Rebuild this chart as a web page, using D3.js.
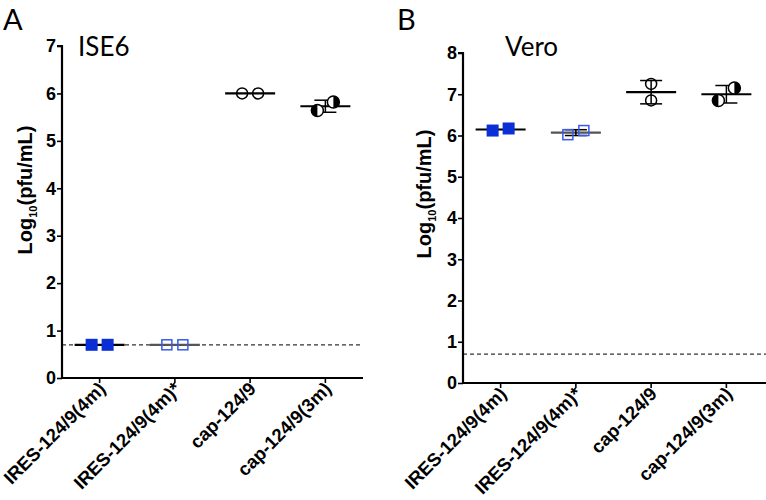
<!DOCTYPE html>
<html><head><meta charset="utf-8">
<script src="https://cdn.jsdelivr.net/npm/d3@7"></script>
<style>body{margin:0;background:#fff}svg{display:block}</style>
</head><body>
<svg id="c" width="766" height="500"></svg>
<script>
const categories = ["IRES-124/9(4m)", "IRES-124/9(4m)*", "cap-124/9", "cap-124/9(3m)"];
const symbols = ["filledSquare", "openSquare", "openCircle", "halfCircle"];
const ise6Values = [[0.7, 0.7], [0.7, 0.7], [6.0, 6.0], [5.64, 5.82]];
const veroValues = [[6.12, 6.17], [6.02, 6.12], [7.25, 6.85], [6.85, 7.15]];
const ise6Ticks = [0, 1, 2, 3, 4, 5, 6, 7];
const veroTicks = [0, 1, 2, 3, 4, 5, 6, 7, 8];
const detectionLimit = 0.7;

const svg = d3.select("#c");
const BLUE = "#0b2fd6", BLUE2 = "#3a5ae8";
const FONT = "Liberation Sans, Arial, sans-serif";

function panel(opt) {
  const g = svg.append("g");
  const x = d3.scaleBand().domain(categories).range([opt.x0, opt.x1]);
  const y = d3.scaleLinear().domain([0, d3.max(opt.ticks)]).range([opt.yb, opt.yt]);
  const cx = c => x(c) + x.bandwidth() / 2;

  // detection limit
  g.append("line").attr("x1", opt.x0).attr("x2", opt.x1 + opt.extra)
    .attr("y1", y(detectionLimit)).attr("y2", y(detectionLimit))
    .attr("stroke", "#333").attr("stroke-width", 1.2).attr("stroke-dasharray", "4,3");

  // axes
  const ya = d3.axisLeft(y).tickValues(opt.ticks).tickSize(5).tickPadding(1).tickFormat(d3.format("d"));
  const yg = g.append("g").attr("transform", `translate(${opt.x0},0)`).call(ya);
  yg.select(".domain").attr("d", `M-5,${opt.yt}H0V${opt.yb}`).attr("stroke-width", 2.2);
  yg.selectAll(".tick line").attr("stroke-width", 1.6);
  yg.selectAll("text").attr("font-family", FONT)
    .attr("font-weight", "bold").attr("font-size", 18).attr("fill", "#000");

  const xa = d3.axisBottom(x).tickSize(5).tickSizeOuter(0).tickFormat(() => "");
  const xg = g.append("g").attr("transform", `translate(0,${opt.yb})`).call(xa);
  xg.select(".domain").attr("d", `M${opt.x0},0H${opt.x1 + opt.extra}`).attr("stroke-width", 2.2);
  xg.selectAll(".tick line").attr("stroke-width", 1.6);
  g.selectAll(".xl").data(categories).enter().append("text")
    .attr("transform", d => `translate(${cx(d) + 7},${opt.yb + 12}) rotate(-45)`)
    .attr("text-anchor", "end")
    .attr("font-family", FONT).attr("font-weight", "bold")
    .attr("font-size", 18.5).text(d => d);

  // y label
  const yl = g.append("text")
    .attr("transform", `translate(${opt.ylx},${opt.yly}) rotate(-90)`)
    .attr("text-anchor", "middle")
    .attr("font-family", FONT).attr("font-weight", "bold").attr("font-size", 20);
  yl.append("tspan").text("Log");
  yl.append("tspan").attr("font-size", 11).attr("dy", 5).text("10");
  yl.append("tspan").attr("dy", -5).text("(pfu/mL)");

  // title & panel letter
  g.append("text").attr("x", opt.tx).attr("y", 56).attr("font-family", "Lato, Open Sans, sans-serif")
    .attr("font-size", 26).text(opt.title);
  g.append("text").attr("x", opt.lx).attr("y", 30).attr("font-family", "Lato, Open Sans, sans-serif")
    .attr("font-size", 29).text(opt.letter);

  // data
  opt.values.forEach((vals, i) => {
    const c = categories[i];
    const m = d3.mean(vals), sd = d3.deviation(vals) || 0;
    const X = cx(c);
    const meanColor = symbols[i] === "openSquare" ? "#555" : "#000";
    g.append("line").attr("x1", X - 25).attr("x2", X + 25).attr("y1", y(m)).attr("y2", y(m))
      .attr("stroke", meanColor).attr("stroke-width", 2.2);
    if (sd > 0.05) {
      [m + sd, m - sd].forEach(v => g.append("line").attr("x1", X - 11).attr("x2", X + 11)
        .attr("y1", y(v)).attr("y2", y(v)).attr("stroke", "#000").attr("stroke-width", 1.5));
      g.append("line").attr("x1", X).attr("x2", X).attr("y1", y(m + sd)).attr("y2", y(m - sd))
        .attr("stroke", "#000").attr("stroke-width", 1.5);
    }
    const close = Math.abs(y(vals[0]) - y(vals[1])) < 16;
    vals.forEach((v, j) => {
      const off = close ? (j === 0 ? -8 : 8) : 0;
      const px = X + off, py = y(v);
      const s = symbols[i];
      if (s === "filledSquare") {
        g.append("rect").attr("x", px - 6).attr("y", py - 6).attr("width", 12).attr("height", 12).attr("fill", BLUE);
      } else if (s === "openSquare") {
        g.append("rect").attr("x", px - 5).attr("y", py - 5).attr("width", 10).attr("height", 10)
          .attr("fill", "none").attr("stroke", BLUE2).attr("stroke-width", 1.5);
      } else if (s === "openCircle") {
        g.append("circle").attr("cx", px).attr("cy", py).attr("r", 5.5).attr("fill", "none")
          .attr("stroke", "#000").attr("stroke-width", 1.5);
      } else {
        const r = 6;
        const left = j === 0;
        g.append("circle").attr("cx", px).attr("cy", py).attr("r", r).attr("fill", "#fff")
          .attr("stroke", "#000").attr("stroke-width", 1.5);
        const arc = left
          ? `M${px},${py - r}A${r},${r} 0 0 0 ${px},${py + r}Z`
          : `M${px},${py - r}A${r},${r} 0 0 1 ${px},${py + r}Z`;
        g.append("path").attr("d", arc).attr("fill", "#000");
      }
    });
  });
}

panel({ x0: 62, x1: 363, extra: 0, yb: 378, yt: 46, ticks: ise6Ticks, values: ise6Values,
  title: "ISE6", tx: 78, letter: "A", lx: 3, ylx: 32, yly: 190 });
panel({ x0: 463, x1: 764, extra: 2, yb: 383, yt: 53, ticks: veroTicks, values: veroValues,
  title: "Vero", tx: 505, letter: "B", lx: 397, ylx: 431, yly: 194 });
</script>
</body></html>
